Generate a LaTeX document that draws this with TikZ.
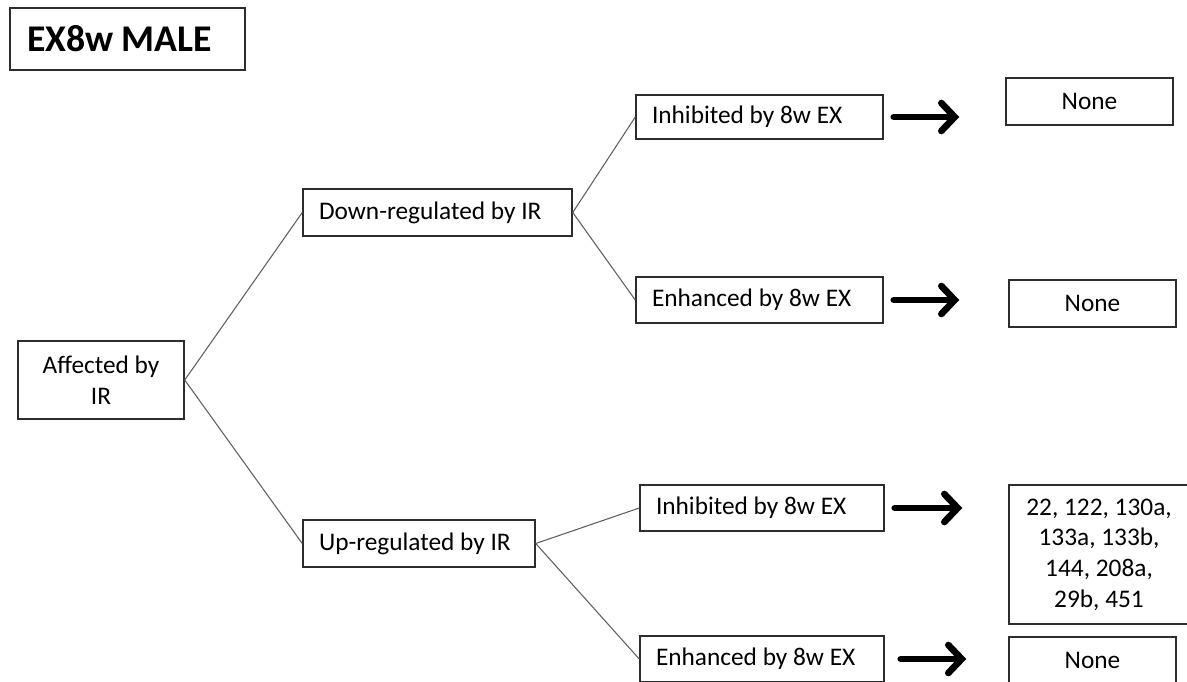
\documentclass[tikz,border=0pt]{standalone}
\usepackage{fontspec}
\setmainfont{Carlito}
\usepackage{tikz}
\usetikzlibrary{arrows.meta, positioning, calc}
\definecolor{boxline}{RGB}{45, 45, 45}
\definecolor{branchline}{RGB}{95, 95, 95}
\tikzstyle{box} = [draw=boxline, line width=1.1pt, fill=white, inner sep=0pt, align=center, font=\fontsize{19}{23}\selectfont]
\tikzstyle{lbox} = [box, align=flush left, inner xsep=12pt]
\tikzstyle{branch} = [draw=branchline, line width=0.8pt]
\tikzstyle{bigarrow} = [-{Straight Barb[length=10pt, width=21pt, line cap=round]}, line width=5pt, line cap=round, shorten <=7.5pt]

\begin{document}
\begin{tikzpicture}[x=0.75pt, y=-0.75pt]
    \clip (0,0) rectangle (1187,681);
    \useasboundingbox (0,0) rectangle (1187,681);

    % Title
    \node[lbox, inner xsep=12.75pt, text width=150.75pt, minimum height=46.5pt, font=\fontsize{28.3}{32}\selectfont\bfseries] (title) at (127.5,39) {EX8w MALE};

    % Tree
    \node[box, minimum width=124.5pt, minimum height=58.5pt] (aff) at (101,380) {Affected by\\IR};
    \node[lbox, text width=177.75pt, minimum height=35.25pt] (down) at (437.5,212.5) {Down-regulated by IR};
    \node[lbox, text width=150pt, minimum height=35.25pt] (up) at (419,543.5) {Up-regulated by IR};
    \node[lbox, text width=161.25pt, minimum height=33pt] (inh1) at (759.5,117) {Inhibited by 8w EX};
    \node[lbox, text width=161.25pt, minimum height=34.5pt] (enh1) at (759.5,300) {Enhanced by 8w EX};
    \node[lbox, text width=159pt, minimum height=34.5pt] (inh2) at (762,508) {Inhibited by 8w EX};
    \node[lbox, text width=159pt, minimum height=34.5pt] (enh2) at (762,659) {Enhanced by 8w EX};

    % Results
    \node[box, minimum width=125.25pt, minimum height=35.25pt] (none1) at (1089.5,101.5) {None};
    \node[box, minimum width=125.25pt, minimum height=35.25pt] (none2) at (1092.5,303.5) {None};
    \node[box, minimum width=135pt, minimum height=104.25pt] (list) at (1099,554.5) {22, 122, 130a,\\133a, 133b,\\144, 208a,\\29b, 451};
    \node[box, minimum width=125.25pt, minimum height=35.25pt] (none3) at (1092.5,660.5) {None};

    % Branches
    \draw[branch] (aff.east) -- (down.west);
    \draw[branch] (aff.east) -- (up.west);
    \draw[branch] (down.east) -- (inh1.west);
    \draw[branch] (down.east) -- (enh1.west);
    \draw[branch] (up.east) -- (inh2.west);
    \draw[branch] (up.east) -- (enh2.west);

    % Arrows
    \draw[bigarrow, shorten >=34.5pt] (inh1.east) -- (inh1.east -| none1.west);
    \draw[bigarrow, shorten >=36.75pt] (enh1.east) -- (enh1.east -| none2.west);
    \draw[bigarrow, shorten >=34.5pt] (inh2.east) -- (inh2.east -| list.west);
    \draw[bigarrow, shorten >=31.5pt, shorten <=12pt] (enh2.east) -- (enh2.east -| none3.west);
\end{tikzpicture}
\end{document}
